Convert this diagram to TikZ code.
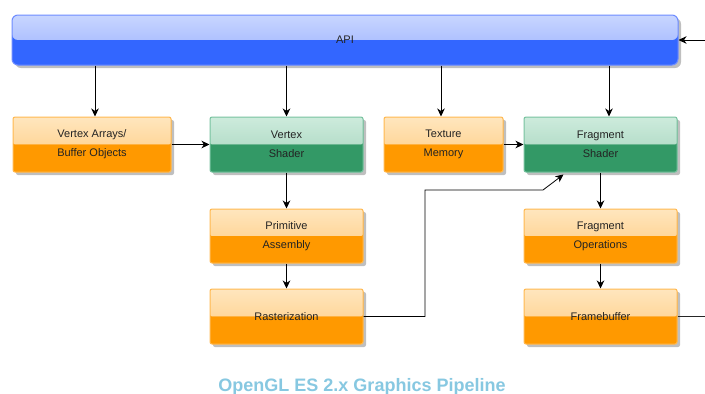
\documentclass[tikz,border=0pt]{standalone}
\usepackage{fontspec}
\setmainfont{Liberation Sans}
\setsansfont{Liberation Sans}
\usetikzlibrary{arrows.meta,shadows,calc}
\definecolor{orB}{RGB}{255,185,80}
\definecolor{orT1}{RGB}{255,230,190}
\definecolor{orT2}{RGB}{255,200,120}
\definecolor{orD}{RGB}{255,153,0}
\definecolor{grB}{RGB}{120,195,160}
\definecolor{grT1}{RGB}{205,235,220}
\definecolor{grT2}{RGB}{160,210,185}
\definecolor{grD}{RGB}{51,153,102}
\definecolor{blB}{RGB}{110,140,255}
\definecolor{blT1}{RGB}{200,214,255}
\definecolor{blT2}{RGB}{150,172,255}
\definecolor{blD}{RGB}{51,102,255}
\definecolor{ttl}{RGB}{135,200,225}
\definecolor{txt}{RGB}{35,35,35}
\tikzset{
  shad/.style={drop shadow={shadow xshift=3pt,shadow yshift=-3pt,opacity=0.25,fill=black}},
  boxbase/.style={rounded corners=2pt, line width=1pt, align=center, text=txt,
    font=\fontsize{11}{19}\selectfont, inner sep=0pt, shad},
  obox/.style={boxbase, draw=orB, fill=orD,
    path picture={\fill[top color=orT1,bottom color=orT2] (path picture bounding box.north west) rectangle (path picture bounding box.east);
                  \fill[orD] (path picture bounding box.west) rectangle (path picture bounding box.south east);}},
  gbox/.style={boxbase, draw=grB, fill=grD,
    path picture={\fill[top color=grT1,bottom color=grT2] (path picture bounding box.north west) rectangle (path picture bounding box.east);
                  \fill[grD] (path picture bounding box.west) rectangle (path picture bounding box.south east);}},
  arr/.style={-{Stealth[length=8pt,width=7.5pt,inset=2.5pt]}, line width=0.8pt, black},
  ln/.style={line width=0.8pt, black!85}
}
\begin{document}
\begin{tikzpicture}[x=1pt,y=-1pt]
\fill[white] (0,0) rectangle (705,394);
\useasboundingbox (0,0) rectangle (705,394);

\node[boxbase, draw=blB, fill=blD, rounded corners=6pt, minimum width=666pt, minimum height=50pt,
  font=\fontsize{11}{13}\selectfont,
  path picture={\fill[top color=blT1,bottom color=blT2] (path picture bounding box.north west) rectangle (path picture bounding box.east);
                \fill[blD] (path picture bounding box.west) rectangle (path picture bounding box.south east);}]
  (API) at (345,40) {API};

\node[obox, minimum width=158pt, minimum height=55pt] (VA) at (92,144.5) {Vertex Arrays/\\Buffer Objects};
\node[gbox, minimum width=153pt, minimum height=55pt] (VS) at (286.5,144.5) {Vertex\\Shader};
\node[obox, minimum width=119pt, minimum height=55pt] (TM) at (443.5,144.5) {Texture\\Memory};
\node[gbox, minimum width=153pt, minimum height=55pt] (FS) at (600.5,144.5) {Fragment\\Shader};
\node[obox, minimum width=153pt, minimum height=54pt] (PA) at (286.5,236) {Primitive\\Assembly};
\node[obox, minimum width=153pt, minimum height=54pt] (FO) at (600.5,236) {Fragment\\Operations};
\node[obox, minimum width=153pt, minimum height=55pt] (RA) at (286.5,316.5) {Rasterization};
\node[obox, minimum width=153pt, minimum height=55pt] (FB) at (600.5,316.5) {Framebuffer};

\node[font=\bfseries\fontsize{18}{20}\selectfont, text=ttl] (title) at (362,387) {OpenGL ES 2.x Graphics Pipeline};

% arrows from API
\draw[arr] ([xshift=3pt]API.south -| VA.north) -- ([xshift=3pt]VA.north);
\draw[arr] (API.south -| VS.north) -- (VS.north);
\draw[arr] ([xshift=-2.5pt]API.south -| TM.north) -- ([xshift=-2.5pt]TM.north);
\draw[arr] ([xshift=8.5pt]API.south -| FS.north) -- ([xshift=8.5pt]FS.north);

\coordinate (apiin) at (705,40);
\draw[arr] (apiin) -- (API.east);

\draw[arr] (VA.east) -- (VS.west);
\draw[arr] (TM.east) -- (FS.west);
\draw[arr] (VS.south) -- (PA.north);
\draw[arr] (PA.south) -- (RA.north);
\draw[arr] (FS.south) -- (FO.north);
\draw[arr] (FO.south) -- (FB.north);

\coordinate (b1) at (425,190);
\coordinate (b2) at (543,190);
\draw[arr] (RA.east) -| (b1) -- (b2) -- ([xshift=-37pt,yshift=-2pt]FS.south);

\coordinate (fbout) at (705,316.5);
\draw[ln] (FB.east) -- (fbout);
\end{tikzpicture}
\end{document}
